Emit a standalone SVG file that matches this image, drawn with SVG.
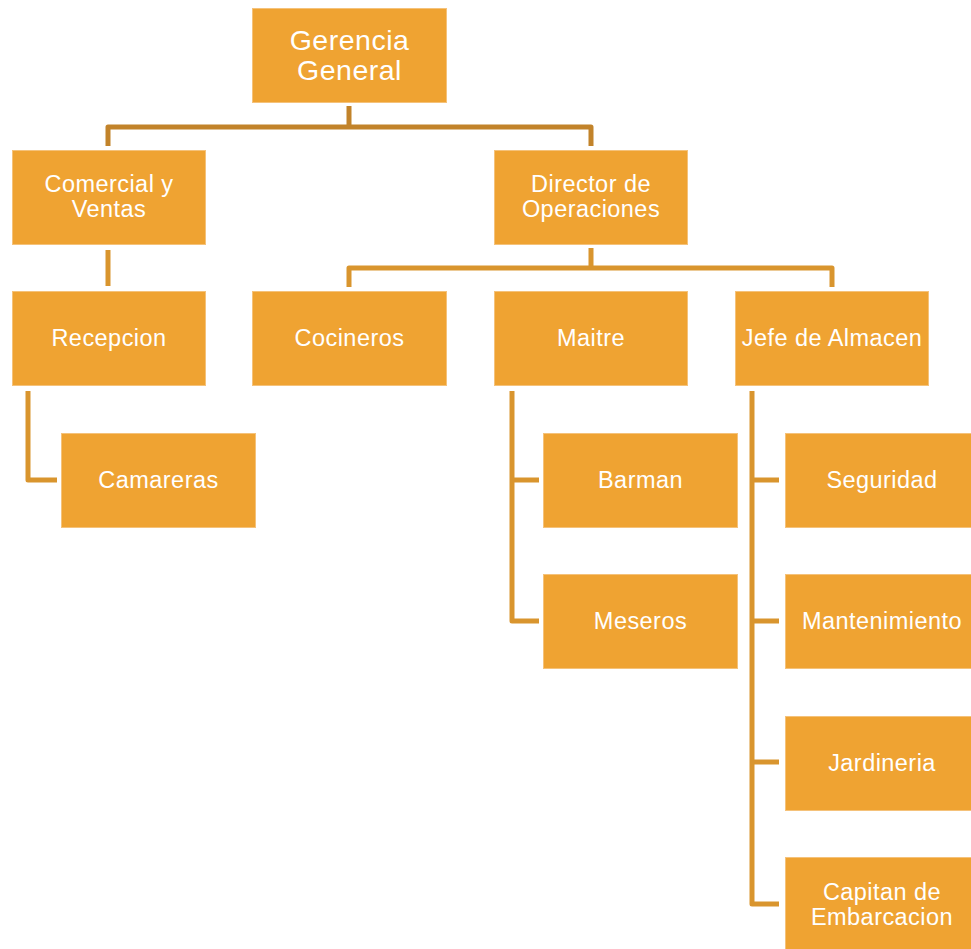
<svg xmlns="http://www.w3.org/2000/svg" width="971" height="949" viewBox="0 0 971 949">
<style>
.box{fill:#EFA332;stroke:#F5C27A;stroke-width:1}
.t{font-family:"Liberation Sans",Arial,sans-serif;font-size:23.5px;letter-spacing:0.45px;fill:#ffffff;text-anchor:middle}
.big{font-size:28.5px;letter-spacing:0.5px}
.c{fill:none;stroke:#D9952E;stroke-width:5;stroke-linejoin:round;stroke-linecap:butt}
.c1{stroke:#C2832A}
</style>
<rect width="971" height="949" fill="#ffffff"/>
<g id="connectors">
<path class="c c1" d="M349,106 V127 M108,146 V127 H591 V146"/>
<path class="c" d="M108,250 V286"/>
<path class="c" d="M591,248 V268 M349,287 V268 H832 V287"/>
<path class="c" d="M28,391 V480 H57"/>
<path class="c" d="M512,391 V621 H539 M512,480 H539"/>
<path class="c" d="M752,391 V904 H779 M752,480 H779 M752,621 H779 M752,762 H779"/>
</g>
<g id="n_gerencia"><rect class="box" x="252.5" y="8.5" width="194" height="94"/><text class="t big" x="349.5" y="49.5">Gerencia</text><text class="t big" x="349.5" y="80">General</text></g>
<g id="n_comercial"><rect class="box" x="12.5" y="150.5" width="193" height="94"/><text class="t" x="109" y="192">Comercial y</text><text class="t" x="109" y="217">Ventas</text></g>
<g id="n_director"><rect class="box" x="494.5" y="150.5" width="193" height="94"/><text class="t" x="591" y="192">Director de</text><text class="t" x="591" y="217">Operaciones</text></g>
<g id="n_recepcion"><rect class="box" x="12.5" y="291.5" width="193" height="94"/><text class="t" x="109" y="346">Recepcion</text></g>
<g id="n_cocineros"><rect class="box" x="252.5" y="291.5" width="194" height="94"/><text class="t" x="349.5" y="346">Cocineros</text></g>
<g id="n_maitre"><rect class="box" x="494.5" y="291.5" width="193" height="94"/><text class="t" x="591" y="346">Maitre</text></g>
<g id="n_jefe"><rect class="box" x="735.5" y="291.5" width="193" height="94"/><text class="t" x="832" y="346">Jefe de Almacen</text></g>
<g id="n_camareras"><rect class="box" x="61.5" y="433.5" width="194" height="94"/><text class="t" x="158.5" y="488">Camareras</text></g>
<g id="n_barman"><rect class="box" x="543.5" y="433.5" width="194" height="94"/><text class="t" x="640.5" y="488">Barman</text></g>
<g id="n_meseros"><rect class="box" x="543.5" y="574.5" width="194" height="94"/><text class="t" x="640.5" y="629">Meseros</text></g>
<g id="n_seguridad"><rect class="box" x="785.5" y="433.5" width="194" height="94"/><text class="t" x="882" y="488">Seguridad</text></g>
<g id="n_mantenimiento"><rect class="box" x="785.5" y="574.5" width="194" height="94"/><text class="t" x="882" y="629">Mantenimiento</text></g>
<g id="n_jardineria"><rect class="box" x="785.5" y="716.5" width="194" height="94"/><text class="t" x="882" y="771">Jardineria</text></g>
<g id="n_capitan"><rect class="box" x="785.5" y="857.5" width="194" height="94"/><text class="t" x="882" y="900">Capitan de</text><text class="t" x="882" y="925">Embarcacion</text></g>
</svg>
